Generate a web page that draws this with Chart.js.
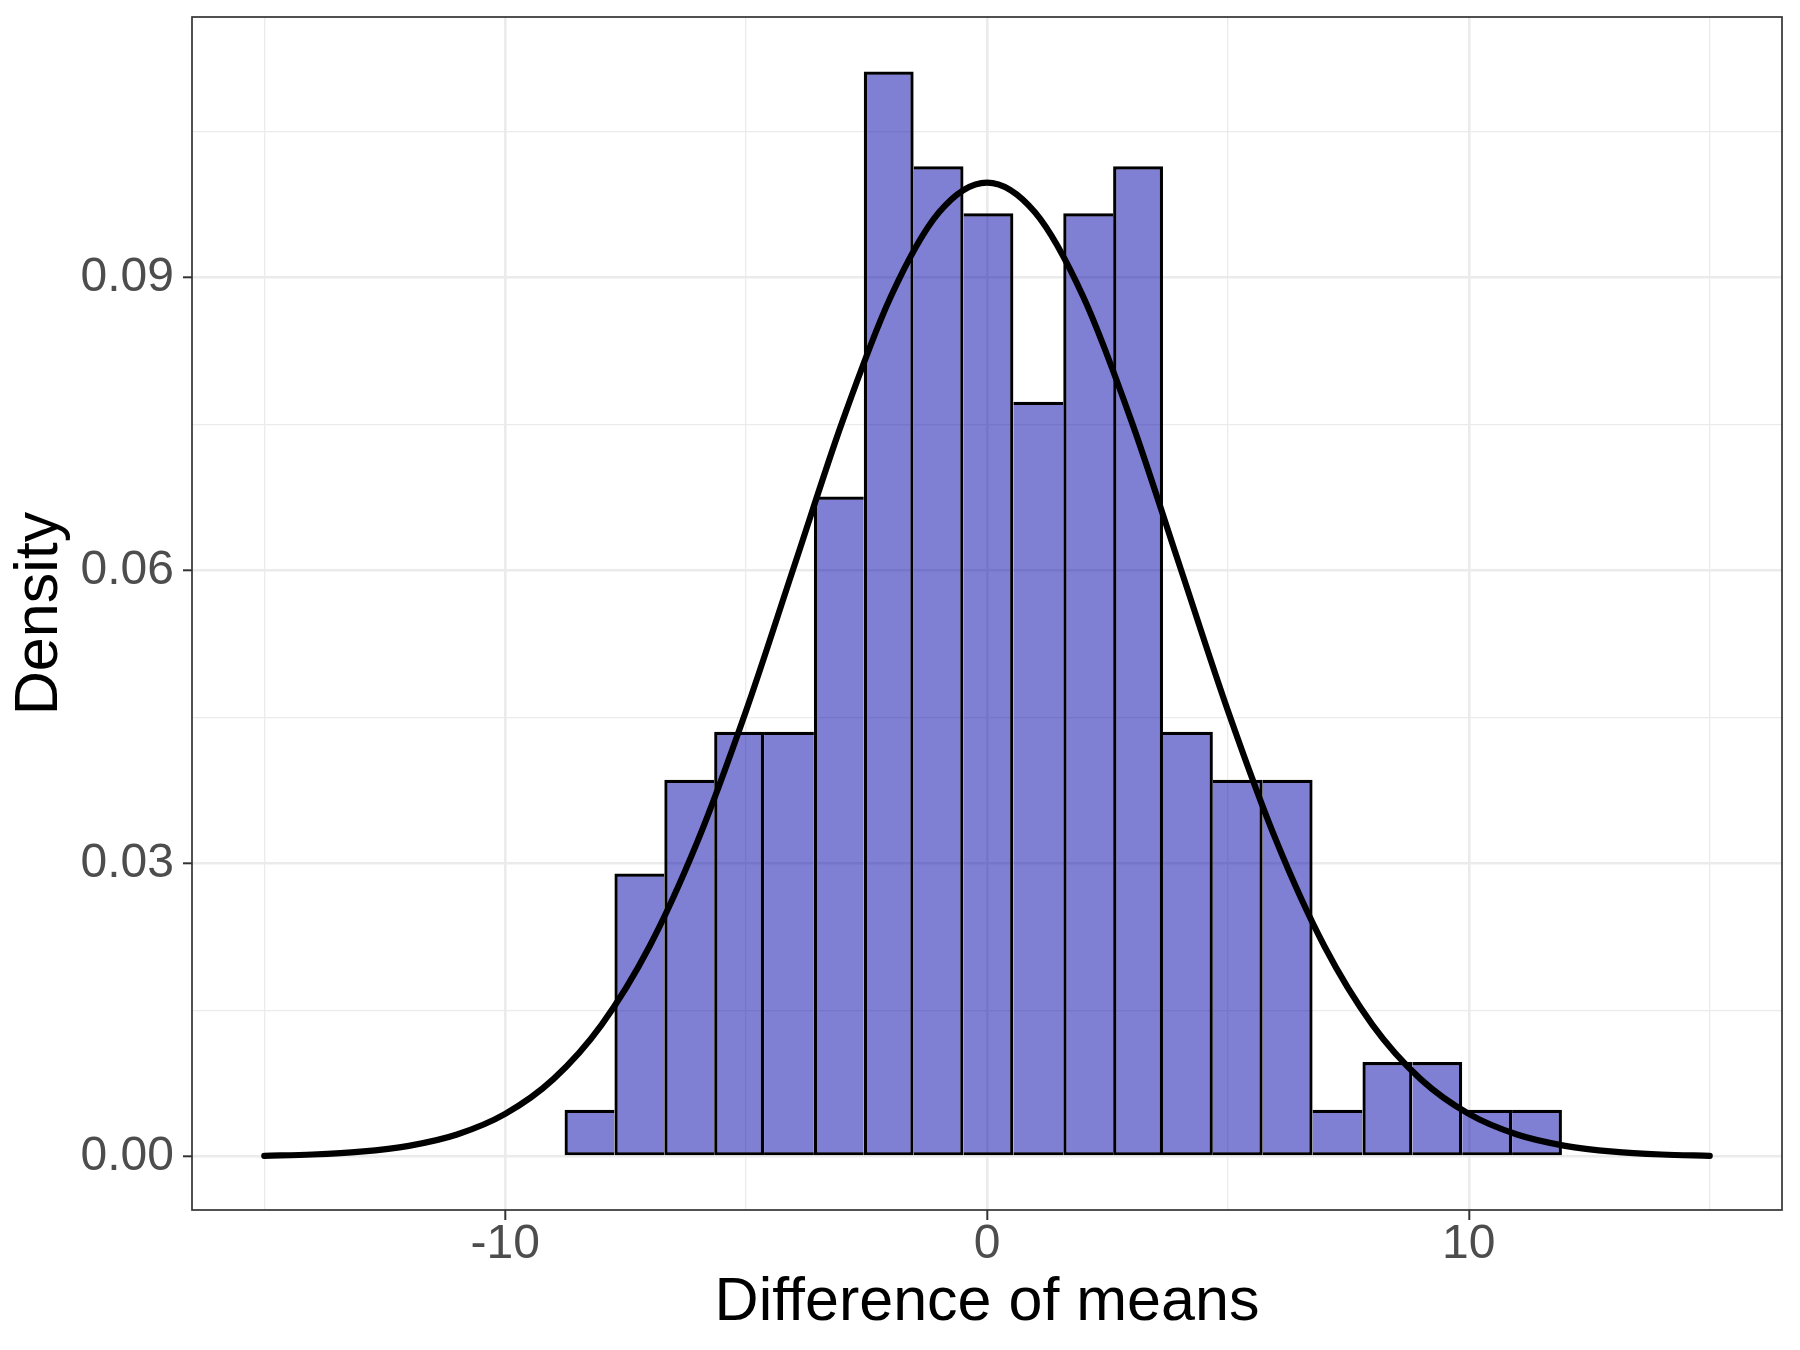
<!DOCTYPE html>
<html>
<head>
<meta charset="utf-8">
<title>Difference of means</title>
<script src="https://cdn.jsdelivr.net/npm/chart.js@4.4.1/dist/chart.umd.min.js"></script>
<style>
  html, body { margin: 0; padding: 0; background: #fff; }
  #wrap { width: 1800px; height: 1350px; }
</style>
</head>
<body>
<div id="wrap"><canvas id="histChart" width="1800" height="1350"></canvas></div>
<script>
  // histogram: centre of each bin and its density
  const binCenters = [-8.25, -7.215, -6.18, -5.145, -4.11, -3.075, -2.04, -1.005, 0.03, 1.065,
                      2.1, 3.135, 4.17, 5.205, 6.24, 7.275, 8.31, 9.345, 10.38, 11.415];
  const binDensity = [0.0048, 0.0290, 0.0386, 0.0435, 0.0435, 0.0676, 0.1111, 0.1014, 0.0966, 0.0773,
                      0.0966, 0.1014, 0.0435, 0.0386, 0.0386, 0.0048, 0.0097, 0.0097, 0.0048, 0.0048];

  // normal density curve, read at whole numbers
  const curveX = [-15, -14, -13, -12, -11, -10, -9, -8, -7, -6, -5, -4, -3, -2, -1, 0,
                  1, 2, 3, 4, 5, 6, 7, 8, 9, 10, 11, 12, 13, 14, 15];
  const curveY = [0.00009, 0.00022, 0.00051, 0.00111, 0.00227, 0.00438, 0.00794, 0.01350,
                  0.02157, 0.03238, 0.04566, 0.06049, 0.07529, 0.08802, 0.09667, 0.09974,
                  0.09667, 0.08802, 0.07529, 0.06049, 0.04566, 0.03238, 0.02157, 0.01350,
                  0.00794, 0.00438, 0.00227, 0.00111, 0.00051, 0.00022, 0.00009];

  const xTicks = [-15, -10, -5, 0, 5, 10, 15];
  const xTickLabels = ['', '-10', '', '0', '', '10', ''];
  const yTicks = [0, 0.015, 0.03, 0.045, 0.06, 0.075, 0.09, 0.105];
  const yTickLabels = ['0.00', '', '0.03', '', '0.06', '', '0.09', ''];

  const GRID = '#ebebeb';
  const INK = '#333333';
  const FONT = "'Liberation Sans', Arial, Helvetica, sans-serif";
  const EDGE = 3.2;

  const panelBorder = {
    id: 'panelBorder',
    afterDraw(chart) {
      const { ctx, chartArea: a } = chart;
      ctx.save();
      ctx.strokeStyle = INK;
      ctx.lineWidth = 1.7;
      ctx.strokeRect(a.left, a.top, a.right - a.left, a.bottom - a.top);
      ctx.restore();
    }
  };

  const isMajorX = (ctx) => xTickLabels[ctx.index] !== '';
  const isMajorY = (ctx) => yTickLabels[ctx.index] !== '';

  // a shared side between two bins is outlined once, by the taller bin
  function binBorder(ctx) {
    const i = ctx.dataIndex;
    if (i === undefined) return EDGE;
    const h = binDensity[i];
    const prev = i > 0 ? binDensity[i - 1] : -1;
    const next = i < binDensity.length - 1 ? binDensity[i + 1] : -1;
    return { top: EDGE, bottom: EDGE, left: prev < h ? EDGE : 0, right: next <= h ? EDGE : 0 };
  }

  new Chart(document.getElementById('histChart'), {
    type: 'bar',
    data: {
      datasets: [
        {
          type: 'line',
          data: curveX.map((x, i) => ({ x, y: curveY[i] })),
          borderColor: '#000',
          borderWidth: 6.2,
          borderCapStyle: 'round',
          pointRadius: 0,
          cubicInterpolationMode: 'monotone',
          order: 1
        },
        {
          type: 'bar',
          data: binCenters.map((x, i) => ({ x, y: binDensity[i] })),
          backgroundColor: 'rgba(0, 0, 170, 0.5)',
          borderColor: '#000',
          borderWidth: binBorder,
          borderSkipped: false,
          inflateAmount: 0,
          barPercentage: 1,
          categoryPercentage: 1,
          grouped: false,
          order: 2
        }
      ]
    },
    options: {
      responsive: false,
      animation: false,
      layout: { padding: { left: 0, right: 18, top: 17, bottom: 0 } },
      plugins: { legend: { display: false }, tooltip: { enabled: false } },
      scales: {
        x: {
          type: 'linear',
          min: -16.5,
          max: 16.5,
          offset: false,
          afterBuildTicks: (scale) => { scale.ticks = xTicks.map((value) => ({ value })); },
          afterFit: (scale) => { scale.height = 140; scale.paddingLeft = 0; scale.paddingRight = 0; },
          grid: {
            offset: false,
            color: GRID,
            lineWidth: (ctx) => (isMajorX(ctx) ? 2.6 : 1.3),
            tickColor: (ctx) => (isMajorX(ctx) ? INK : 'rgba(0,0,0,0)'),
            tickWidth: 2,
            tickLength: 10
          },
          border: { display: false },
          ticks: {
            autoSkip: false,
            maxRotation: 0,
            padding: 1,
            color: '#4d4d4d',
            font: { family: FONT, size: 48, lineHeight: 1 },
            callback: (value, index) => xTickLabels[index]
          },
          title: {
            display: true,
            text: 'Difference of means',
            color: '#000',
            font: { family: FONT, size: 61, lineHeight: 1.2 },
            padding: { top: 4, bottom: 10 }
          }
        },
        y: {
          type: 'linear',
          min: -0.00546,
          max: 0.11669,
          afterBuildTicks: (scale) => { scale.ticks = yTicks.map((value) => ({ value })); },
          afterFit: (scale) => { scale.width = 192; scale.paddingTop = 0; scale.paddingBottom = 0; },
          grid: {
            color: GRID,
            lineWidth: (ctx) => (isMajorY(ctx) ? 2.6 : 1.3),
            tickColor: (ctx) => (isMajorY(ctx) ? INK : 'rgba(0,0,0,0)'),
            tickWidth: 2,
            tickLength: 9
          },
          border: { display: false },
          ticks: {
            autoSkip: false,
            padding: 9,
            color: '#4d4d4d',
            font: { family: FONT, size: 48, lineHeight: 1 },
            callback: (value, index) => yTickLabels[index]
          },
          title: {
            display: true,
            text: 'Density',
            color: '#000',
            font: { family: FONT, size: 61, lineHeight: 1.2 },
            padding: { top: 4, bottom: 4 }
          }
        }
      }
    },
    plugins: [panelBorder]
  });
</script>
</body>
</html>
